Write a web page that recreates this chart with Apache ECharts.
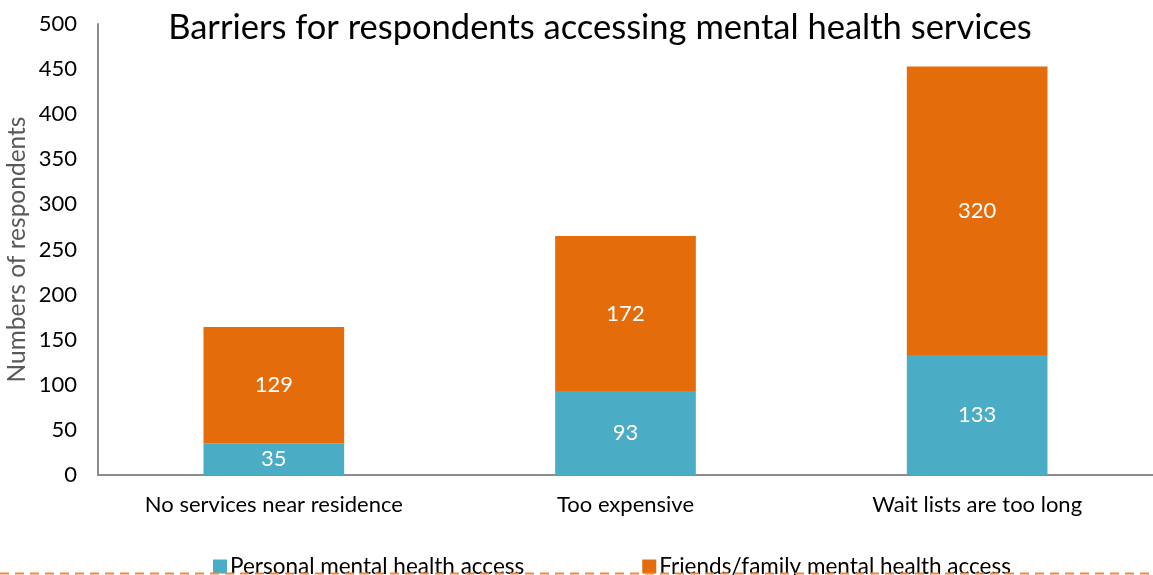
<!DOCTYPE html>
<html>
<head>
<meta charset="utf-8">
<script src="https://cdn.jsdelivr.net/npm/echarts@6/dist/echarts.min.js"></script>
<style>
  html, body { margin: 0; padding: 0; background: #ffffff; }
  #chart { width: 1153px; height: 575px; }
</style>
</head>
<body>
<div id="chart"></div>
<script>
// Barrier categories and respondent counts per access group
const categories = ['No services near residence', 'Too expensive', 'Wait lists are too long'];
const personalAccess = [35, 93, 133];
const familyAccess = [129, 172, 320];
const yTicks = { min: 0, max: 500, interval: 50 };

const FONT = 'Lato, "Open Sans", sans-serif';
const chart = echarts.init(document.getElementById('chart'), null, { renderer: 'canvas' });

const labelStyle = {
  show: true,
  position: 'inside',
  color: '#ffffff',
  fontFamily: FONT,
  fontSize: 22
};

chart.setOption({
  animation: false,
  title: {
    text: 'Barriers for respondents accessing mental health services',
    left: 595,
    textAlign: 'center',
    top: 5,
    textStyle: { fontFamily: FONT, fontSize: 34.5, fontWeight: 'normal', color: '#000000' }
  },
  legend: {
    top: 550,
    left: 208,
    itemWidth: 14,
    itemHeight: 14,
    itemGap: 118,
    icon: 'rect',
    textStyle: { fontFamily: FONT, fontSize: 22.5, color: '#000000', padding: [0, 0, 0, -2] },
    data: ['Personal mental health access', 'Friends/family mental health access']
  },
  grid: { left: 98, right: 0, top: 24, bottom: 100, containLabel: false, outerBoundsMode: 'none' },
  xAxis: {
    type: 'category',
    data: categories,
    axisLine: { lineStyle: { color: '#8c8c8c', width: 2 } },
    axisTick: { show: false },
    axisLabel: { fontFamily: FONT, fontSize: 22, color: '#000000', margin: 19 }
  },
  yAxis: {
    type: 'value',
    min: yTicks.min,
    max: yTicks.max,
    interval: yTicks.interval,
    name: 'Numbers of respondents',
    nameLocation: 'middle',
    nameGap: 68,
    nameMoveOverlap: false,
    nameTextStyle: { fontFamily: FONT, fontSize: 24.5, color: '#595959' },
    axisLine: { show: true, lineStyle: { color: '#8c8c8c', width: 2 } },
    axisTick: { show: false },
    splitLine: { show: false },
    axisLabel: { fontFamily: FONT, fontSize: 22, color: '#000000', margin: 21 }
  },
  series: [
    {
      name: 'Personal mental health access',
      type: 'bar',
      stack: 'total',
      barWidth: '40%',
      data: personalAccess,
      itemStyle: { color: '#4bacc6' },
      label: labelStyle
    },
    {
      name: 'Friends/family mental health access',
      type: 'bar',
      stack: 'total',
      barWidth: '40%',
      data: familyAccess,
      itemStyle: { color: '#e46c0a' },
      label: labelStyle
    }
  ],
  graphic: [
    {
      type: 'line',
      shape: { x1: 0, y1: 573.5, x2: 1153, y2: 573.5 },
      style: { stroke: '#f4883a', lineWidth: 2, lineDash: [9, 6] },
      z: 100
    }
  ]
});
</script>
</body>
</html>
